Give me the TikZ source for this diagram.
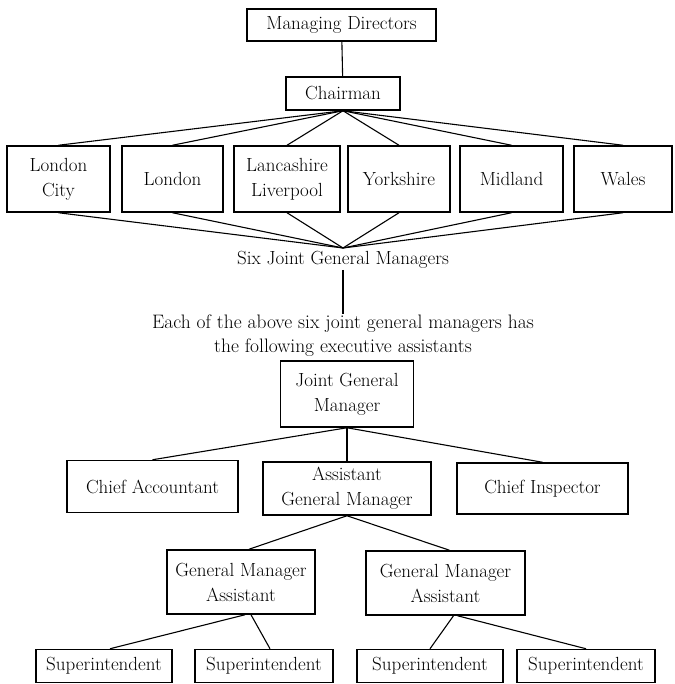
\documentclass[tikz,border=0pt]{standalone}
\usetikzlibrary{calc}
\begin{document}
\begin{tikzpicture}[x=1pt,y=-1pt,
  box/.style={draw,line width=1.5pt,rectangle,align=center,inner sep=1pt,font=\fontsize{19}{25}\selectfont},
  lbl/.style={align=center,inner sep=1pt,font=\fontsize{19}{24}\selectfont},
  conn/.style={line width=1.1pt}]
\useasboundingbox (0,0) rectangle (674,684);
% top
\node[box,minimum width=189pt,minimum height=32pt] (md) at (341.5,25) {Managing Directors};
\node[box,minimum width=114pt,minimum height=33pt] (ch) at (343,93.5) {Chairman};
% regions
\node[box,minimum width=103pt,minimum height=66pt] (r1) at (58.5,179) {London\\City};
\node[box,minimum width=101pt,minimum height=66pt] (r2) at (172.5,179) {London};
\node[box,minimum width=106pt,minimum height=66pt] (r3) at (287,179) {Lancashire\\Liverpool};
\node[box,minimum width=102pt,minimum height=66pt] (r4) at (399,179) {Yorkshire};
\node[box,minimum width=103pt,minimum height=66pt] (r5) at (511.5,179) {Midland};
\node[box,minimum width=98pt,minimum height=66pt] (r6) at (623,179) {Wales};
\coordinate (conv) at (343,248);
\node[lbl] (sj) at (343,260) {Six Joint General Managers};
\node[lbl,font=\fontsize{19.5}{24}\selectfont] (each) at (343,336) {Each of the above six joint general managers has\\the following executive assistants};
% lower chart
\node[box,minimum width=133pt,minimum height=66pt] (jgm) at (347,394) {Joint General\\Manager};
\node[box,minimum width=171pt,minimum height=52pt] (ca) at (152.5,486.5) {Chief Accountant};
\node[box,minimum width=168pt,minimum height=53pt] (agm) at (347,488.5) {Assistant\\General Manager};
\node[box,minimum width=171pt,minimum height=51pt] (ci) at (542.5,488.5) {Chief Inspector};
\node[box,minimum width=148pt,minimum height=64pt] (gl) at (241,582) {General Manager\\Assistant};
\node[box,minimum width=159pt,minimum height=64pt] (gr) at (445.5,583) {General Manager\\Assistant};
\node[box,minimum width=136pt,minimum height=33pt] (s1) at (104,666) {Superintendent};
\node[box,minimum width=138pt,minimum height=33pt] (s2) at (264,666) {Superintendent};
\node[box,minimum width=146pt,minimum height=33pt] (s3) at (430,666) {Superintendent};
\node[box,minimum width=138pt,minimum height=33pt] (s4) at (586,666) {Superintendent};
% connectors
\draw[conn] (md) -- (ch);
\foreach \r in {r1,r2,r3,r4,r5,r6}{
  \draw[conn] (ch.south) -- (\r.north);
  \draw[conn] (\r.south) -- (conv);
}
\draw[conn] (sj.south) -- (each.north);
\foreach \r in {ca,agm,ci}{\draw[conn] (jgm.south) -- (\r.north);}
\draw[conn] (agm.south) -- ([xshift=8pt]gl.north);
\draw[conn] (agm.south) -- ([xshift=4pt]gr.north);
\draw[conn] ([xshift=4pt]gl.south) -- ([xshift=6pt]s1.north);
\draw[conn] ([xshift=10pt]gl.south) -- ([xshift=6pt]s2.north);
\draw[conn] ([xshift=8pt]gr.south) -- (s3.north);
\draw[conn] ([xshift=12pt]gr.south) -- (s4.north);
\end{tikzpicture}
\end{document}
